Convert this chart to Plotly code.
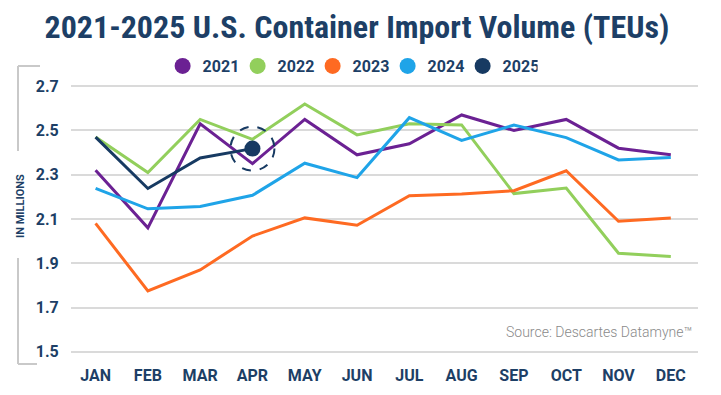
import plotly.graph_objects as go

months = ["JAN", "FEB", "MAR", "APR", "MAY", "JUN", "JUL", "AUG", "SEP", "OCT", "NOV", "DEC"]
years = ["2021", "2022", "2023", "2024", "2025"]
v2021 = [2.32, 2.06, 2.53, 2.35, 2.55, 2.39, 2.44, 2.57, 2.50, 2.55, 2.42, 2.39]
v2022 = [2.47, 2.31, 2.55, 2.46, 2.62, 2.48, 2.53, 2.525, 2.215, 2.24, 1.945, 1.93]
v2023 = [2.08, 1.775, 1.87, 2.023, 2.105, 2.072, 2.205, 2.213, 2.228, 2.318, 2.09, 2.105]
v2024 = [2.238, 2.146, 2.157, 2.207, 2.352, 2.287, 2.558, 2.455, 2.524, 2.468, 2.367, 2.378]
v2025 = [2.47, 2.238, 2.376, 2.418]
y_ticks = [1.5, 1.7, 1.9, 2.1, 2.3, 2.5, 2.7]

colors = ["#6b2193", "#92cf5c", "#fe6a22", "#1fa4e8", "#173a62"]
navy = "#1d3f66"
series = [v2021, v2022, v2023, v2024, v2025]

W, H = 721, 395
ML, MR, MT, MB = 71, 23, 84, 41

fig = go.Figure()
for name, vals, col in zip(years, series, colors):
    fig.add_trace(go.Scatter(x=months[:len(vals)], y=vals, mode="lines", name=name,
                             line=dict(color=col, width=3), showlegend=False,
                             hoverinfo="skip"))
# highlight latest 2025 point
last_m = months[len(v2025) - 1]
fig.add_trace(go.Scatter(x=[last_m], y=[v2025[-1]], mode="markers", showlegend=False,
                         marker=dict(color=colors[4], size=16), hoverinfo="skip"))
# legend entries as circles
for name, col in zip(years, colors):
    fig.add_trace(go.Scatter(x=[None], y=[None], mode="markers", name=name,
                             marker=dict(color=col, size=16)))

def px_x(p):
    return (p - ML) / (W - ML - MR)

def px_y(p):
    return 1 - (p - MT) / (H - MT - MB)

shapes = [
    dict(type="circle", xref="x", yref="y", xsizemode="pixel", ysizemode="pixel",
         xanchor=last_m, yanchor=v2025[-1], x0=-22, x1=22, y0=-22, y1=22,
         line=dict(color=colors[4], width=2, dash="dash")),
]
gray = "#c9c9c9"
for (x0, y0, x1, y1) in [(18, 66, 18, 151), (18, 258, 18, 364), (18, 66, 40, 66), (18, 364, 37, 364)]:
    shapes.append(dict(type="line", xref="paper", yref="paper",
                       x0=px_x(x0), x1=px_x(x1), y0=px_y(y0), y1=px_y(y1),
                       line=dict(color=gray, width=2)))

fig.update_layout(
    width=W, height=H,
    margin=dict(l=ML, r=MR, t=MT, b=MB, autoexpand=False),
    paper_bgcolor="white", plot_bgcolor="white",
    title=dict(text="<b>2021-2025 U.S. Container Import Volume (TEUs)</b>",
               x=0.495, xanchor="center", xref="container",
               y=1 - 27 / H, yanchor="middle", yref="container",
               font=dict(family="Roboto Condensed, Liberation Sans Narrow, Arial Narrow, Roboto", size=32, color=navy)),
    legend=dict(orientation="h", xref="container", yref="container",
                x=0.4856, xanchor="center", y=1 - 66 / H, yanchor="middle",
                font=dict(family="Roboto", size=16, color=navy, weight="bold"),
                entrywidth=30, entrywidthmode="pixels", itemwidth=30,
                bgcolor="rgba(0,0,0,0)"),
    xaxis=dict(type="category", categoryorder="array", categoryarray=months,
               range=[-0.47, 11.52], showgrid=False, zeroline=False, showline=False,
               ticks="outside", ticklen=7, tickcolor="rgba(0,0,0,0)",
               tickfont=dict(family="Roboto", size=16, color=navy, weight="bold")),
    yaxis=dict(range=[1.49, 2.71], tickvals=y_ticks, ticktext=[f"{v:.1f}" for v in y_ticks],
               showgrid=True, gridcolor="#dadada", gridwidth=2, zeroline=False, showline=False,
               ticks="outside", ticklen=8, tickcolor="rgba(0,0,0,0)",
               tickfont=dict(family="Roboto", size=16, color=navy, weight="bold")),
    shapes=shapes,
    annotations=[
        dict(text="<b>IN MILLIONS</b>", xref="paper", yref="paper", x=px_x(20), y=px_y(206),
             textangle=-90, showarrow=False, xanchor="center", yanchor="middle",
             font=dict(family="Roboto", size=11, color=navy)),
        dict(text="Source: Descartes Datamyne™", xref="paper", yref="paper",
             x=px_x(694), y=px_y(332), xanchor="right", yanchor="middle", showarrow=False,
             font=dict(family="Roboto", size=14, color="#8a8a8a", weight=300)),
    ],
)

fig.write_html("out.html", config={"displayModeBar": False},
               post_script="document.body.style.margin='0px';")
